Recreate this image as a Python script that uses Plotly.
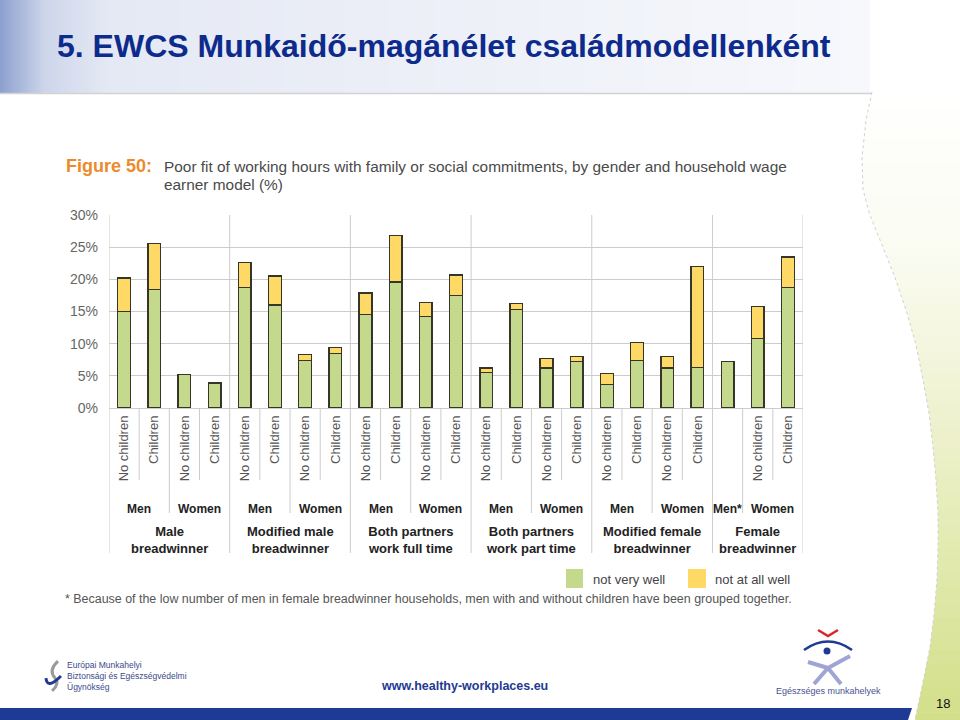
import plotly.graph_objects as go

W, H = 960, 720

# ---------------- data ----------------
groups = ["Male<br>breadwinner", "Modified male<br>breadwinner", "Both partners<br>work full time",
          "Both partners<br>work part time", "Modified female<br>breadwinner", "Female<br>breadwinner"]
genders = [["Men", "Women"], ["Men", "Women"], ["Men", "Women"],
           ["Men", "Women"], ["Men", "Women"], ["Men*", "Women"]]
children = [
    [["No children", "Children"], ["No children", "Children"]],
    [["No children", "Children"], ["No children", "Children"]],
    [["No children", "Children"], ["No children", "Children"]],
    [["No children", "Children"], ["No children", "Children"]],
    [["No children", "Children"], ["No children", "Children"]],
    [[""], ["No children", "Children"]],
]
not_very_well = [15.0, 18.4, 5.2, 3.9, 18.7, 16.0, 7.4, 8.5, 14.5, 19.6, 14.2, 17.5,
                 5.5, 15.3, 6.2, 7.2, 3.7, 7.4, 6.2, 6.3, 7.2, 10.8, 18.7]
not_at_all_well = [5.2, 7.2, None, None, 3.9, 4.5, 0.9, 0.9, 3.4, 7.2, 2.2, 3.2,
                   0.7, 0.9, 1.5, 0.8, 1.7, 2.8, 1.8, 15.7, None, 5.0, 4.8]
y_ticks = [0, 5, 10, 15, 20, 25, 30]
y_tick_labels = ["0%", "5%", "10%", "15%", "20%", "25%", "30%"]
series_names = ["not very well", "not at all well"]
colors = ["#c5d98c", "#ffd966"]

title = "5. EWCS Munkaidő-magánélet családmodellenként"
fig_label = "Figure 50:"
fig_caption_1 = "Poor fit of working hours with family or social commitments, by gender and household wage"
fig_caption_2 = "earner model (%)"
footnote = "* Because of the low number of men in female breadwinner households, men with and without children have been grouped together."


def px(x):
    return x / W


def py(y):
    return 1 - y / H


# ------------- derived structure -------------
categories = []
gender_pos = []
group_pos = []
group_bounds = [0]
gender_bounds = []
cat_bounds = []
slot = 0
for g, gl, ch in zip(groups, genders, children):
    g_start = slot
    for k, (gname, cats) in enumerate(zip(gl, ch)):
        s_start = slot
        for j, c in enumerate(cats):
            categories.append(c)
            slot += 1
            if j < len(cats) - 1:
                cat_bounds.append(slot)
        gender_pos.append((gname, (s_start + slot) / 2))
        if k < len(gl) - 1:
            gender_bounds.append(slot)
    group_pos.append((g, (g_start + slot) / 2))
    group_bounds.append(slot)

n = len(categories)
xs = [i + 0.5 for i in range(n)]

fig = go.Figure()
for name, vals, col in zip(series_names, [not_very_well, not_at_all_well], colors):
    fig.add_trace(go.Bar(x=xs, y=vals, name=name, width=0.42,
                         marker=dict(color=col, line=dict(color="#35352a", width=1.4)),
                         showlegend=False, hoverinfo="skip"))

shapes = []


def lerp(c1, c2, t):
    return tuple(int(round(a + (b - a) * t)) for a, b in zip(c1, c2))


def pick(stops_, v):
    for (a, ca), (b, cb) in zip(stops_[:-1], stops_[1:]):
        if a <= v <= b:
            return lerp(ca, cb, (v - a) / (b - a))
    return stops_[-1][1]


# header band gradient (fine strips near the left edge, coarser further right)
stops = [(0, (140, 160, 207)), (45, (205, 214, 234)), (110, (229, 233, 244)), (870, (247, 248, 252))]
edges = [i * 2 for i in range(61)] + [120 + i * 15 for i in range(1, 51)]
for x0, x1 in zip(edges[:-1], edges[1:]):
    c = pick(stops, (x0 + x1) / 2)
    shapes.append(dict(type="rect", xref="paper", yref="paper", x0=px(x0), x1=px(min(x1 + 0.6, 870)),
                       y0=py(93), y1=py(0), fillcolor="rgb(%d,%d,%d)" % c, line=dict(width=0),
                       layer="below"))
shapes.append(dict(type="line", xref="paper", yref="paper", x0=0, x1=px(872), y0=py(93.5), y1=py(93.5),
                   line=dict(color="#d2d2d2", width=1.5), layer="below"))

# right curved green area
curve = [(872, 92), (866, 120), (862, 157), (863, 190), (870, 215), (880, 240), (894, 275), (907, 313),
         (916, 345), (923, 380), (929, 413), (933, 447), (936, 480), (938, 513), (938, 547), (937, 580),
         (934, 615), (930, 647), (923, 682), (915, 720)]


def curve_x(y):
    for (xa, ya), (xb, yb) in zip(curve[:-1], curve[1:]):
        if ya <= y <= yb:
            return xa + (xb - xa) * (y - ya) / (yb - ya)
    return curve[-1][0]


gstops = [(92, (255, 255, 255)), (260, (250, 251, 240)), (450, (236, 240, 200)), (720, (211, 223, 137))]
M = 80
for i in range(M):
    y0 = 92 + (720 - 92) * i / M
    y1 = min(92 + (720 - 92) * (i + 1) / M + 0.6, 720)
    c = pick(gstops, (y0 + y1) / 2)
    path = "M %.4f,%.4f L %.4f,%.4f L 1,%.4f L 1,%.4f Z" % (
        px(curve_x(y0)), py(y0), px(curve_x(y1)), py(y1), py(y1), py(y0))
    shapes.append(dict(type="path", xref="paper", yref="paper", path=path,
                       fillcolor="rgb(%d,%d,%d)" % c, line=dict(width=0), layer="below"))
cpath = "M " + " L ".join("%.4f,%.4f" % (px(x), py(y)) for x, y in curve)
shapes.append(dict(type="path", xref="paper", yref="paper", path=cpath,
                   line=dict(color="#d0d0d0", width=1, dash="dot"), layer="below"))

# bottom blue bar
shapes.append(dict(type="path", xref="paper", yref="paper",
                   path="M 0,%.4f L %.4f,%.4f L %.4f,%.4f L 0,%.4f Z" % (
                       py(708), px(912), py(708), px(908), py(720), py(720)),
                   fillcolor="#1d3a94", line=dict(width=0), layer="above"))

# chart separators (group / gender / category)
for b in group_bounds:
    shapes.append(dict(type="line", xref="x", yref="paper", x0=b, x1=b, y0=py(553), y1=py(215),
                       line=dict(color="#cccccc", width=1), layer="below"))
for b in gender_bounds:
    shapes.append(dict(type="line", xref="x", yref="paper", x0=b, x1=b, y0=py(513), y1=py(408),
                       line=dict(color="#cccccc", width=1), layer="below"))
for b in cat_bounds:
    shapes.append(dict(type="line", xref="x", yref="paper", x0=b, x1=b, y0=py(480), y1=py(408),
                       line=dict(color="#cccccc", width=1), layer="below"))

# legend swatches
shapes.append(dict(type="rect", xref="paper", yref="paper", x0=px(566), x1=px(583), y0=py(588), y1=py(569),
                   fillcolor=colors[0], line=dict(width=0)))
shapes.append(dict(type="rect", xref="paper", yref="paper", x0=px(688), x1=px(706), y0=py(588), y1=py(569),
                   fillcolor=colors[1], line=dict(width=0)))

# right logo
shapes.append(dict(type="path", xref="paper", yref="paper",
                   path="M %.4f,%.4f L %.4f,%.4f L %.4f,%.4f" % (px(818), py(630), px(828), py(636), px(838), py(630)),
                   line=dict(color="#d8262c", width=2.5)))
shapes.append(dict(type="path", xref="paper", yref="paper",
                   path="M %.4f,%.4f Q %.4f,%.4f %.4f,%.4f" % (px(804), py(650), px(828), py(633), px(852), py(650)),
                   line=dict(color="#1f3a93", width=2.5)))
shapes.append(dict(type="circle", xref="paper", yref="paper", x0=px(823.5), x1=px(830.5), y0=py(654.5), y1=py(647.5),
                   fillcolor="#1f3a93", line=dict(width=0)))
for (xa, ya, xb, yb) in [(808, 662, 828, 668), (850, 656, 828, 668), (828, 668, 814, 684), (828, 668, 841, 684)]:
    shapes.append(dict(type="line", xref="paper", yref="paper", x0=px(xa), y0=py(ya), x1=px(xb), y1=py(yb),
                       line=dict(color="#9fa4d4", width=4)))
# left logo
shapes.append(dict(type="path", xref="paper", yref="paper",
                   path="M %.4f,%.4f Q %.4f,%.4f %.4f,%.4f Q %.4f,%.4f %.4f,%.4f" % (
                       px(58), py(661), px(48), py(670), px(55), py(678), px(60), py(684), px(52), py(691)),
                   line=dict(color="#9a9a9a", width=3)))
shapes.append(dict(type="path", xref="paper", yref="paper",
                   path="M %.4f,%.4f Q %.4f,%.4f %.4f,%.4f" % (px(46), py(678), px(47), py(690), px(61), py(676)),
                   line=dict(color="#1f3a93", width=3)))

annotations = []
F = "Liberation Sans, Arial, sans-serif"


def ann(text, x, y, size, color, xanchor="left", xref="paper", align="left"):
    annotations.append(dict(text=text, x=x, y=y, xref=xref, yref="paper", xanchor=xanchor,
                            yanchor="middle", showarrow=False, align=align,
                            font=dict(family=F, size=size, color=color)))


ann("<b>%s</b>" % title, px(55), py(46), 32, "#0d2b8c")
ann("<b>%s</b>" % fig_label, px(64), py(166), 18, "#ec8a2c")
ann(fig_caption_1, px(162), py(166), 15.4, "#4a4a4a")
ann(fig_caption_2, px(162), py(184), 15.4, "#4a4a4a")
for lab, c in gender_pos:
    ann("<b>%s</b>" % lab, c, py(509), 12, "#222222", xanchor="center", xref="x", align="center")
for lab, c in group_pos:
    ann("<b>%s</b>" % lab, c, py(540), 13, "#222222", xanchor="center", xref="x", align="center")
ann(series_names[0], px(591), py(579), 13, "#444444")
ann(series_names[1], px(713), py(579), 13, "#444444")
ann(footnote, px(63), py(599), 12.45, "#555555")
ann("<b>www.healthy-workplaces.eu</b>", px(464), py(686), 12.5, "#1f3a93", xanchor="center", align="center")
ann("Európai Munkahelyi<br>Biztonsági és Egészségvédelmi<br>Ügynökség", px(65), py(676), 8.5, "#3b4a8c")
ann("Egészséges munkahelyek", px(828), py(691), 9, "#4a5290", xanchor="center", align="center")
ann("18", px(943), py(703), 13, "#111111", xanchor="center", align="center")

fig.update_layout(
    width=W, height=H, autosize=False,
    margin=dict(l=0, r=0, t=0, b=0, pad=0, autoexpand=False),
    paper_bgcolor="white", plot_bgcolor="rgba(0,0,0,0)",
    barmode="stack", bargap=0,
    showlegend=False, hovermode=False,
    shapes=shapes, annotations=annotations,
    xaxis=dict(domain=[px(109), px(803)], range=[0, n], tickmode="array", tickvals=xs,
               ticktext=categories, tickangle=-90, showgrid=False, zeroline=False, showline=False,
               ticks="", ticklabelstandoff=4, automargin=False,
               tickfont=dict(family=F, size=13, color="#555555"), fixedrange=True),
    yaxis=dict(domain=[py(408), py(215)], range=[0, 30], tickmode="array", tickvals=y_ticks,
               ticktext=y_tick_labels, showgrid=True, gridcolor="#cccccc", gridwidth=1,
               zeroline=True, zerolinecolor="#cccccc", zerolinewidth=1, showline=False,
               ticks="", ticklabelstandoff=10, automargin=False,
               tickfont=dict(family=F, size=14, color="#666666"), fixedrange=True),
)

css_js = ("var s=document.createElement('style');"
          "s.innerHTML='html,body{margin:0!important;padding:0!important;overflow:hidden;}';"
          "document.head.appendChild(s);"
          "var d=document.getElementById('{plot_id}');"
          "d.style.position='fixed';d.style.top='0px';d.style.left='0px';"
          "window.scrollTo(0,0);")
fig.write_html("out.html", config={"displayModeBar": False, "staticPlot": True}, post_script=css_js)
